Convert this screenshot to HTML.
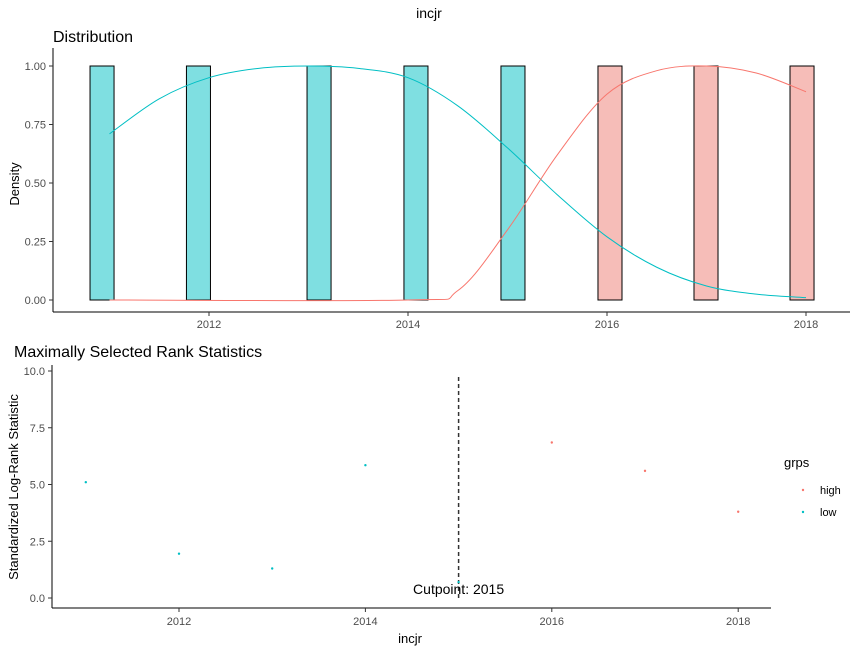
<!DOCTYPE html>
<html><head><meta charset="utf-8"><style>
body{margin:0;background:#fff;font-family:"Liberation Sans",Arial,sans-serif}
svg text{font-family:"Liberation Sans",Arial,sans-serif}
</style></head><body>
<svg id="c" width="858" height="652" xmlns="http://www.w3.org/2000/svg">
<text x="429" y="18" font-size="14" text-anchor="middle">incjr</text>
<text x="53" y="42" font-size="16">Distribution</text>
<text x="14" y="357" font-size="16">Maximally Selected Rank Statistics</text>
<g id="top"></g><g id="bot"></g>
</svg>
<script>
const binCenters=[2010.925,2011.894,2013.106,2014.08,2015.055,2016.03,2016.995,2017.96];
const binDensity=[1,1,1,1,1,1,1,1];
const binGroup=['low','low','low','low','low','high','high','high'];
const lowDensX=[2011,2011.5,2012,2012.5,2013,2013.5,2014,2014.5,2015,2015.5,2016,2016.5,2017,2017.5,2018];
const lowDensY=[0.71,0.86,0.95,0.99,1.0,0.99,0.95,0.83,0.65,0.45,0.27,0.14,0.06,0.025,0.01];
const highDensX=[2011,2014,2014.5,2015,2015.5,2016,2016.5,2017,2017.5,2018];
const highDensY=[0,0,0.04,0.3,0.62,0.88,0.98,1.0,0.97,0.89];
const topTicksX=[2012,2014,2016,2018];
const topTicksY=[0,0.25,0.5,0.75,1.0];
const ptYears=[2011,2012,2013,2014,2015,2016,2017,2018];
const ptStat=[5.1,1.95,1.3,5.85,0.7,6.85,5.6,3.8];
const ptGroup=['low','low','low','low','low','high','high','high'];
const botTicksX=[2012,2014,2016,2018];
const botTicksY=[0,2.5,5,7.5,10];
const cutpoint=2015;
const col={low:'#00BFC4',high:'#F8766D'};
const fill={low:'#7FDFE1',high:'#F6BDB8'};
const NS='http://www.w3.org/2000/svg';
function mk(p,t,a){const e=document.createElementNS(NS,t);for(const k in a)e.setAttribute(k,a[k]);p.appendChild(e);return e;}
function smooth(pts){let d='M'+pts[0][0]+','+pts[0][1];
 for(let i=0;i<pts.length-1;i++){const p0=pts[Math.max(0,i-1)],p1=pts[i],p2=pts[i+1],p3=pts[Math.min(pts.length-1,i+2)];
  d+='C'+(p1[0]+(p2[0]-p0[0])/6)+','+(p1[1]+(p2[1]-p0[1])/6)+' '+(p2[0]-(p3[0]-p1[0])/6)+','+(p2[1]-(p3[1]-p1[1])/6)+' '+p2[0]+','+p2[1];}
 return d;}
const T=document.getElementById('top');
const tx=v=>209+(v-2012)*99.5, ty=v=>300-v*234;
const bw=0.2414;
binCenters.forEach((c,i)=>{
 const r=mk(T,'rect',{x:tx(c-bw/2),y:ty(binDensity[i]),width:bw*99.5,height:ty(0)-ty(binDensity[i]),fill:fill[binGroup[i]],stroke:'#000','stroke-width':1});
 
 
});
const l1=mk(T,'path',{d:smooth(lowDensX.map((x,i)=>[tx(x),ty(lowDensY[i])])),fill:'none',stroke:col.low,'stroke-width':1});


const l2=mk(T,'path',{d:smooth(highDensX.map((x,i)=>[tx(x),ty(highDensY[i])])),fill:'none',stroke:col.high,'stroke-width':1});


mk(T,'line',{x1:53,y1:48,x2:53,y2:312,stroke:'#000'});
mk(T,'line',{x1:53,y1:312,x2:850,y2:312,stroke:'#000'});
topTicksY.forEach(v=>{mk(T,'line',{x1:49,x2:53,y1:ty(v),y2:ty(v),stroke:'#333'});
 const t=mk(T,'text',{x:46,y:ty(v)+4,'font-size':11,fill:'#4d4d4d','text-anchor':'end'});t.textContent=v.toFixed(2);
 });
topTicksX.forEach(v=>{mk(T,'line',{x1:tx(v),x2:tx(v),y1:312,y2:316,stroke:'#333'});
 const t=mk(T,'text',{x:tx(v),y:328,'font-size':11,fill:'#4d4d4d','text-anchor':'middle'});t.textContent=v;
 });
const yt=mk(T,'text',{x:19,y:184,'font-size':13,'text-anchor':'middle',transform:'rotate(-90 19 184)'});yt.textContent='Density';

const B=document.getElementById('bot');
const bx=v=>179+(v-2012)*93.2, by=v=>598-v*22.7;
const cl=mk(B,'line',{x1:bx(cutpoint),x2:bx(cutpoint),y1:377,y2:598,stroke:'#333','stroke-width':1.5,'stroke-dasharray':'4,3'});

ptYears.forEach((y,i)=>{const c=mk(B,'circle',{cx:bx(y),cy:by(ptStat[i]),r:1.2,fill:col[ptGroup[i]]});
 });
const ct=mk(B,'text',{x:bx(cutpoint),y:594,'font-size':14,'text-anchor':'middle'});ct.textContent='Cutpoint: '+cutpoint;

mk(B,'line',{x1:52,y1:365,x2:52,y2:608,stroke:'#000'});
mk(B,'line',{x1:52,y1:608,x2:771,y2:608,stroke:'#000'});
botTicksY.forEach(v=>{mk(B,'line',{x1:48,x2:52,y1:by(v),y2:by(v),stroke:'#333'});
 const t=mk(B,'text',{x:45,y:by(v)+4,'font-size':11,fill:'#4d4d4d','text-anchor':'end'});t.textContent=v.toFixed(1);
 });
botTicksX.forEach(v=>{mk(B,'line',{x1:bx(v),x2:bx(v),y1:608,y2:612,stroke:'#333'});
 const t=mk(B,'text',{x:bx(v),y:625,'font-size':11,fill:'#4d4d4d','text-anchor':'middle'});t.textContent=v;
 });
const by2=mk(B,'text',{x:18,y:487,'font-size':13,'text-anchor':'middle',transform:'rotate(-90 18 487)'});by2.textContent='Standardized Log-Rank Statistic';

const xt=mk(B,'text',{x:410,y:643,'font-size':13,'text-anchor':'middle'});xt.textContent='incjr';

const lg=mk(B,'text',{x:784,y:467,'font-size':13});lg.textContent='grps';

[['high',494],['low',516]].forEach(([g,y])=>{
 const c=mk(B,'circle',{cx:803,cy:y-4,r:1.2,fill:col[g]});
 
 const t=mk(B,'text',{x:820,y:y,'font-size':11});t.textContent=g;
 });
</script>
</body></html>
